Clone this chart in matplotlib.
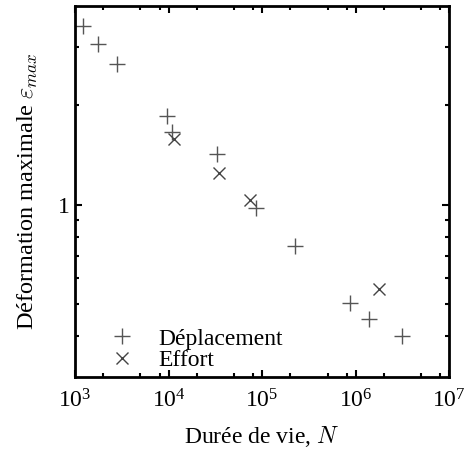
import matplotlib
matplotlib.use('Agg')
import matplotlib.pyplot as plt
from matplotlib.ticker import FixedLocator, LogLocator, NullFormatter, FixedFormatter

plt.rcParams['font.family'] = ['Liberation Serif', 'DejaVu Serif']
plt.rcParams['mathtext.fontset'] = 'cm'

# Déplacement (+)
dep_N = [1210, 1780, 2830, 9700, 10900, 32700, 86300, 225000, 873000, 1.39e6, 3.12e6]
dep_eps = [3.47, 3.06, 2.66, 1.86, 1.66, 1.42, 0.977, 0.747, 0.503, 0.451, 0.401]
# Effort (x)
eff_N = [11350, 34700, 74500, 1.77e6]
eff_eps = [1.58, 1.25, 1.03, 0.557]

fig = plt.figure(figsize=(4.66, 4.55), dpi=100)
ax = fig.add_axes([0.161, 0.171, 0.803, 0.816])

ax.plot(dep_N, dep_eps, '+', ms=12, mew=1.0, color='#555555', ls='none', label='Déplacement')
ax.plot(eff_N, eff_eps, 'x', ms=8.5, mew=1.0, color='#444444', ls='none', label='Effort')

ax.set_xscale('log')
ax.set_yscale('log')
ax.set_xlim(1e3, 1e7)
ax.set_ylim(0.3, 4)

ax.xaxis.set_major_locator(LogLocator(base=10, numticks=10))
ax.xaxis.set_minor_locator(LogLocator(base=10, subs=[2, 5, 8], numticks=20))
ax.xaxis.set_minor_formatter(NullFormatter())

ax.yaxis.set_major_locator(FixedLocator([1]))
ax.yaxis.set_major_formatter(FixedFormatter(['1']))
ax.yaxis.set_minor_locator(FixedLocator([0.4, 0.5, 0.6, 0.7, 0.8, 0.9, 2, 3]))
ax.yaxis.set_minor_formatter(NullFormatter())

ax.tick_params(which='both', direction='in', top=True, right=True, labelsize=17, width=1.5)
ax.tick_params(which='major', length=5)
ax.tick_params(which='minor', length=3)
ax.tick_params(axis='x', pad=9)
for s in ax.spines.values():
    s.set_linewidth(2)

ax.set_xlabel('Durée de vie, $N$', fontsize=17, labelpad=8)
ax.set_ylabel(r'Déformation maximale $\varepsilon_{max}$', fontsize=17.5, labelpad=13)

ax.legend(loc='lower left', frameon=False, fontsize=17, handletextpad=0.55,
          borderaxespad=0.2, labelspacing=0.0, bbox_to_anchor=(0.025, -0.022))

fig.savefig('out.png', dpi=100)
